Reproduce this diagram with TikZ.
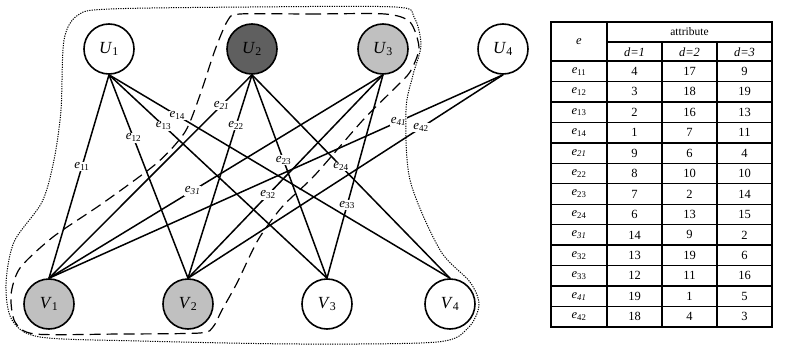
\documentclass[tikz,border=0pt]{standalone}
\usepackage{fontspec}
\setmainfont{Liberation Serif}
\definecolor{darkfill}{HTML}{5F5F5F}
\definecolor{lightfill}{HTML}{C0C0C0}
\begin{document}
\begin{tikzpicture}[x=1pt,y=-1pt,
  vert/.style={circle,draw,line width=1.6pt,minimum size=50pt,inner sep=0pt,font=\fontsize{17}{20}\selectfont},
  conn/.style={line width=1.5pt},
  elab/.style={fill=white,inner sep=0.8pt,font=\fontsize{13}{15}\selectfont},
  dotline/.style={line width=1pt,dash pattern=on 1.2pt off 1.2pt},
  dashline/.style={line width=1.2pt,dash pattern=on 11pt off 6pt},
  tab/.style={line width=1.4pt},
  ttxt/.style={inner sep=0pt,font=\fontsize{12.5}{14}\selectfont}
]
\useasboundingbox (0,0) rectangle (788,356);

% vertices
\node[vert] (U1) at (109,49) {\textit{U}\textsubscript{1}};
\node[vert,fill=darkfill] (U2) at (252,49) {\textit{U}\textsubscript{2}};
\node[vert,fill=lightfill] (U3) at (383,49) {\textit{U}\textsubscript{3}};
\node[vert] (U4) at (503,49) {\textit{U}\textsubscript{4}};
\node[vert,fill=lightfill] (V1) at (49,304) {\textit{V}\textsubscript{1}};
\node[vert,fill=lightfill] (V2) at (188,304) {\textit{V}\textsubscript{2}};
\node[vert] (V3) at (327,304) {\textit{V}\textsubscript{3}};
\node[vert] (V4) at (450,304) {\textit{V}\textsubscript{4}};

% edges
\foreach \a/\b in {U1/V1,U1/V2,U1/V3,U1/V4,U2/V1,U2/V2,U2/V3,U2/V4,U3/V1,U3/V2,U3/V3,U4/V1,U4/V2}
  \draw[conn] (\a.south) -- (\b.north);

% edge labels on top
\foreach \a/\b/\p/\t in {
  U1/V1/0.45/\textit{e}\textsubscript{11},
  U1/V2/0.31/\textit{e}\textsubscript{12},
  U1/V3/0.25/\textit{e}\textsubscript{13},
  U1/V4/0.20/\textit{e}\textsubscript{14},
  U2/V1/0.15/\textit{e}\textsubscript{\textit{21}},
  U2/V2/0.25/\textit{e}\textsubscript{22},
  U2/V3/0.42/\textit{e}\textsubscript{23},
  U2/V4/0.45/\textit{e}\textsubscript{24},
  U3/V1/0.57/\textit{e}\textsubscript{\textit{31}},
  U3/V2/0.59/\textit{e}\textsubscript{32},
  U3/V3/0.64/\textit{e}\textsubscript{33},
  U4/V1/0.23/\textit{e}\textsubscript{\textit{41}},
  U4/V2/0.26/\textit{e}\textsubscript{42}}
  \path (\a.south) -- node[elab,pos=\p] (l\a\b) {\t} (\b.north);

% dotted outline
\draw[dotline] plot[smooth cycle, tension=0.5] coordinates {
  (110,9) (250,7) (395,7) (414,17) (421,45) (413,75) (406,110) (410,180)
  (440,250) (470,282) (479,305) (468,328) (437,342) (300,344) (140,341)
  (40,337) (12,320) (6,285) (14,242) (42,202) (54,160) (61,110) (64,40) (78,15)};

% dashed outline
\draw[dashline] plot[smooth cycle, tension=0.45] coordinates {
  (240,14) (310,14) (385,14) (410,22) (419,48) (410,72) (395,88) (363,120)
  (315,175) (282,207) (258,240) (237,283) (222,310) (213,327) (200,333)
  (120,334) (35,334) (15,322) (11,295) (20,268) (53,237) (103,203)
  (157,163) (185,132) (200,95) (215,50) (228,20)};

% table
\draw[tab] (551,22) rectangle (772,327);
\draw[tab] (607,22) -- (607,327);
\draw[tab] (607,42) -- (772,42);
\draw[tab] (662,42) -- (662,327);
\draw[tab] (717,42) -- (717,327);
\draw[tab] (551,61) -- (772,61);
\foreach \i in {1,...,12}
  \draw[tab] (551,{61+\i*20.46}) -- (772,{61+\i*20.46});

\node[ttxt] (hE) at (579,42) {\textit{e}};
\node[ttxt,font=\fontsize{11.5}{13}\selectfont] (hA) at (689.5,32) {attribute};
\node[ttxt] (hD1) at (634.5,52) {\textit{d=1}};
\node[ttxt] (hD2) at (689.5,52) {\textit{d=2}};
\node[ttxt] (hD3) at (744.5,52) {\textit{d=3}};

\foreach [count=\i] \lab/\x/\y/\z in {
  \textit{e}\textsubscript{11}/4/17/9,
  \textit{e}\textsubscript{12}/3/18/19,
  \textit{e}\textsubscript{13}/2/16/13,
  \textit{e}\textsubscript{14}/1/7/11,
  \textit{e}\textsubscript{\textit{21}}/9/6/4,
  \textit{e}\textsubscript{22}/8/10/10,
  \textit{e}\textsubscript{23}/7/2/14,
  \textit{e}\textsubscript{24}/6/13/15,
  \textit{e}\textsubscript{\textit{31}}/14/9/2,
  \textit{e}\textsubscript{32}/13/19/6,
  \textit{e}\textsubscript{33}/12/11/16,
  \textit{e}\textsubscript{\textit{41}}/19/1/5,
  \textit{e}\textsubscript{42}/18/4/3}
{
  \node[ttxt] (r\i e) at (579,{61+(\i-0.5)*20.46}) {\lab};
  \node[ttxt] (r\i a) at (634.5,{61+(\i-0.5)*20.46}) {\x};
  \node[ttxt] (r\i b) at (689.5,{61+(\i-0.5)*20.46}) {\y};
  \node[ttxt] (r\i c) at (744.5,{61+(\i-0.5)*20.46}) {\z};
}
\end{tikzpicture}
\end{document}
